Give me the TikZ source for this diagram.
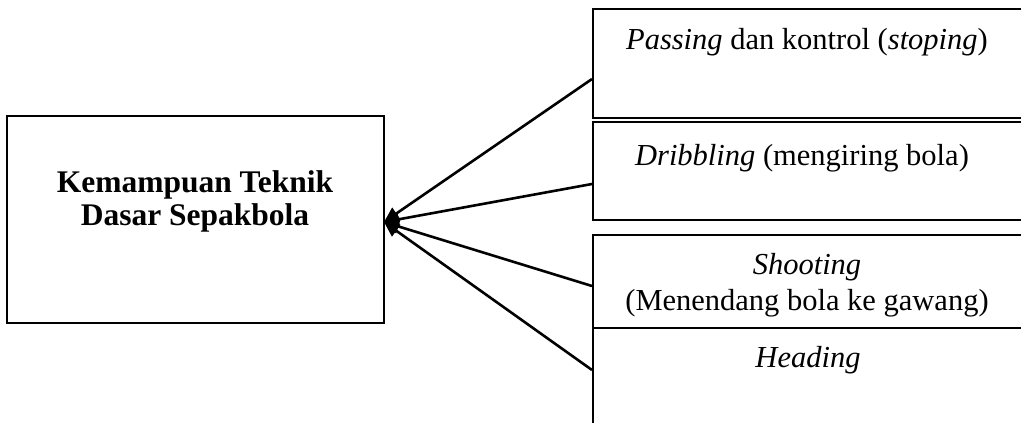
\documentclass[tikz,border=0pt]{standalone}
\usepackage{fontspec}
\setmainfont{Liberation Serif}
\usetikzlibrary{arrows.meta}
\begin{document}
\begin{tikzpicture}[x=1pt,y=-1pt,
  boxstyle/.style={draw=black,line width=1.8pt,rectangle,inner sep=0pt,anchor=north west},
  txt/.style={font=\fontsize{30.5}{36}\selectfont,inner sep=0pt,align=center},
  conn/.style={line width=2.6pt,-{Triangle[length=15pt,width=14pt]}}]
\useasboundingbox (0,0) rectangle (1021,423);
\clip (0,0) rectangle (1021,423);
\node[boxstyle,minimum width=377pt,minimum height=207pt] (main) at (6,115) {};
\node[txt,font=\fontsize{31.5}{33}\selectfont\bfseries] (maintext) at (195,201) {Kemampuan Teknik\\Dasar Sepakbola};
\coordinate (tip) at (384,222);
\node[boxstyle,minimum width=445pt,minimum height=109pt] (b1) at (592,8) {};
\node[boxstyle,minimum width=445pt,minimum height=98pt] (b2) at (592,121) {};
\node[boxstyle,minimum width=445pt,minimum height=93pt] (b3) at (592,234) {};
\node[boxstyle,minimum width=445pt,minimum height=110pt] (b4) at (592,327) {};
\node[txt] (t1) at (807,42) {\textit{Passing} dan kontrol (\textit{stoping})};
\node[txt] (t2) at (802,158) {\textit{Dribbling} (mengiring bola)};
\node[txt] (t3) at (807,285) {\textit{Shooting}\\(Menendang bola ke gawang)};
\node[txt] (t4) at (808,360) {\textit{Heading}};
\draw[conn] (b1.north west |- 0,79) -- (tip);
\draw[conn] (b2.north west |- 0,184) -- (tip);
\draw[conn] (b3.north west |- 0,286) -- (tip);
\draw[conn] (b4.north west |- 0,370) -- (tip);
\end{tikzpicture}
\end{document}
